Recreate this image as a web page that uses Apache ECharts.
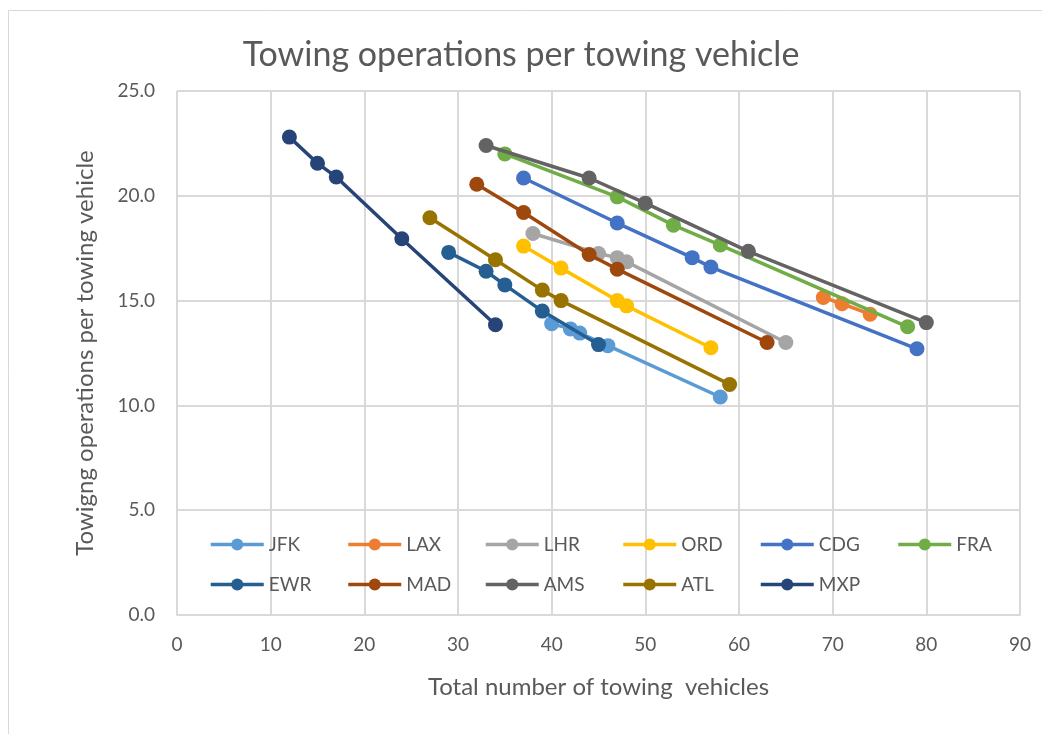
<!DOCTYPE html>
<html>
<head>
<meta charset="utf-8">
<script src="https://cdn.jsdelivr.net/npm/echarts@6/dist/echarts.min.js"></script>
<style>
  html, body { margin: 0; padding: 0; background: #fff; }
  #chart { width: 1042px; height: 734px; }
</style>
</head>
<body>
<div id="chart"></div>
<script>
// airports, in legend order
var names = ['JFK', 'LAX', 'LHR', 'ORD', 'CDG', 'FRA', 'EWR', 'MAD', 'AMS', 'ATL', 'MXP'];
var colors = ['#5B9BD5', '#ED7D31', '#A5A5A5', '#FFC000', '#4472C4', '#70AD47',
              '#255E91', '#9E480E', '#636363', '#997300', '#264478'];

// total number of towing vehicles (x) / towing operations per vehicle (y)
var jfkX = [40, 42, 43, 46, 58];
var jfkY = [13.9, 13.65, 13.45, 12.85, 10.4];
var laxX = [69, 71, 74];
var laxY = [15.15, 14.85, 14.35];
var lhrX = [38, 45, 47, 48, 65];
var lhrY = [18.2, 17.25, 17.05, 16.85, 13.0];
var ordX = [37, 41, 47, 48, 57];
var ordY = [17.6, 16.55, 15.0, 14.75, 12.75];
var cdgX = [37, 47, 55, 57, 79];
var cdgY = [20.85, 18.7, 17.05, 16.6, 12.7];
var fraX = [35, 47, 53, 58, 78];
var fraY = [22.0, 19.95, 18.6, 17.65, 13.75];
var ewrX = [29, 33, 35, 39, 45];
var ewrY = [17.3, 16.4, 15.75, 14.5, 12.9];
var madX = [32, 37, 44, 47, 63];
var madY = [20.55, 19.2, 17.2, 16.5, 13.0];
var amsX = [33, 44, 50, 61, 80];
var amsY = [22.4, 20.85, 19.65, 17.35, 13.95];
var atlX = [27, 34, 39, 41, 59];
var atlY = [18.95, 16.95, 15.5, 15.0, 11.0];
var mxpX = [12, 15, 17, 24, 34];
var mxpY = [22.8, 21.55, 20.9, 17.95, 13.85];

var xs = [jfkX, laxX, lhrX, ordX, cdgX, fraX, ewrX, madX, amsX, atlX, mxpX];
var ys = [jfkY, laxY, lhrY, ordY, cdgY, fraY, ewrY, madY, amsY, atlY, mxpY];

var font = 'Lato';
var grey = '#595959';

var series = names.map(function (n, i) {
  return {
    name: n,
    type: 'line',
    data: xs[i].map(function (x, j) { return [x, ys[i][j]]; }),
    symbol: 'circle',
    symbolSize: 15,
    lineStyle: { width: 3.5, color: colors[i] },
    itemStyle: { color: colors[i] },
    z: 2 + i
  };
});

// one legend per item so the slots are evenly spaced like the Excel legend (6 + 5)
var legends = names.map(function (n, i) {
  var col = i < 6 ? i : i - 6;
  return {
    data: [n],
    left: 209 + col * 137.5,
    top: i < 6 ? 535 : 575,
    padding: 0,
    itemWidth: 53,
    itemHeight: 15,
    itemGap: 0,
    lineStyle: { width: 3.5 },
    textStyle: { fontFamily: font, fontSize: 19, color: grey }
  };
});

var chart = echarts.init(document.getElementById('chart'));
chart.setOption({
  animation: false,
  textStyle: { fontFamily: font },
  title: {
    text: 'Towing operations per towing vehicle',
    left: 'center',
    top: 33,
    textStyle: { fontFamily: font, fontSize: 34, fontWeight: 'normal', color: grey }
  },
  graphic: [{
    type: 'rect',
    shape: { x: 8.5, y: 10.5, width: 1040, height: 730 },
    style: { fill: 'none', stroke: '#d9d9d9', lineWidth: 1 },
    silent: true
  }],
  legend: legends,
  grid: { left: 177, right: 22, top: 91, bottom: 119 },
  xAxis: {
    type: 'value',
    min: 0, max: 90, interval: 10,
    name: 'Total number of towing  vehicles',
    nameLocation: 'middle',
    nameGap: 60,
    nameTextStyle: { fontFamily: font, fontSize: 24, color: grey },
    axisLine: { show: true, lineStyle: { color: '#d9d9d9', width: 2 } },
    axisTick: { show: false },
    axisLabel: { fontSize: 19, color: grey, margin: 20 },
    splitLine: { lineStyle: { color: '#d9d9d9', width: 2 } }
  },
  yAxis: {
    type: 'value',
    min: 0, max: 25, interval: 5,
    name: 'Towigng operations per towing vehicle',
    nameLocation: 'middle',
    nameGap: 80,
    nameTextStyle: { fontFamily: font, fontSize: 24, color: grey },
    axisLine: { show: false },
    axisTick: { show: false },
    axisLabel: {
      fontSize: 19, color: grey, margin: 22,
      formatter: function (v) { return v.toFixed(1); }
    },
    splitLine: { lineStyle: { color: '#d9d9d9', width: 2 } }
  },
  series: series
});
</script>
</body>
</html>
